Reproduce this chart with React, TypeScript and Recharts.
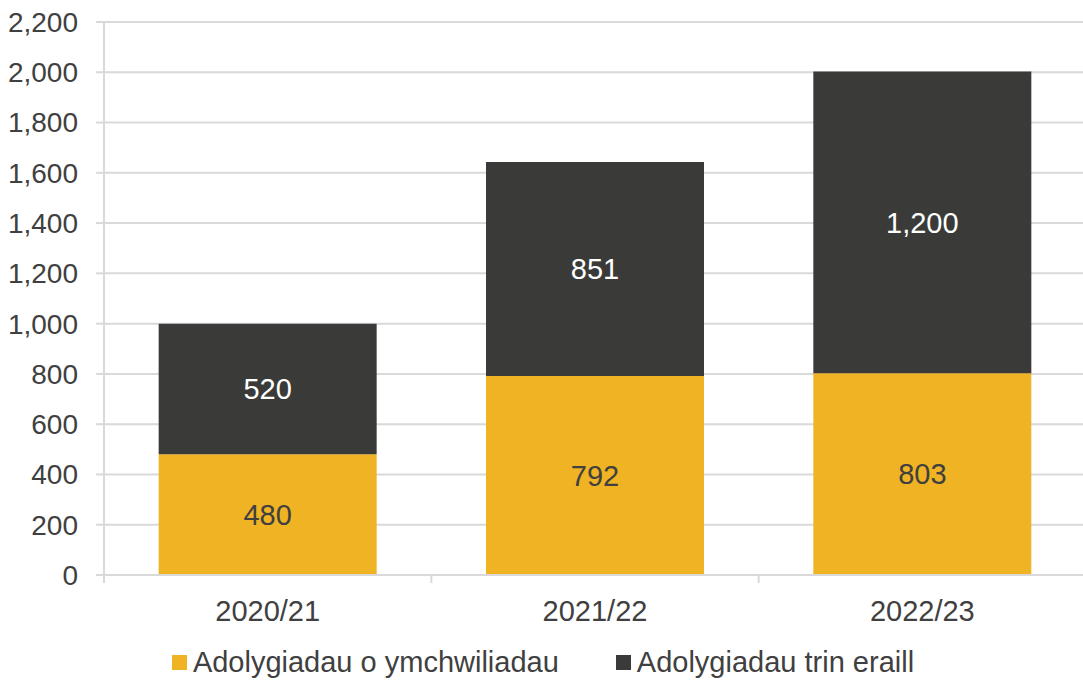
import React from "react";
import { BarChart, Bar, XAxis, YAxis, CartesianGrid, Legend, LabelList } from "recharts";

const years = ["2020/21", "2021/22", "2022/23"];
const investigationReviews = [480, 792, 803];
const otherReviews = [520, 851, 1200];
const yTicks = [0, 200, 400, 600, 800, 1000, 1200, 1400, 1600, 1800, 2000, 2200];

const seriesNames = ["Adolygiadau o ymchwiliadau", "Adolygiadau trin eraill"];
const colors = ["#F0B323", "#3A3B38"];

const data = years.map((year, i) => ({
  year,
  investigation: investigationReviews[i],
  other: otherReviews[i],
}));

const FONT = "'Liberation Sans', Arial, sans-serif";
const TEXT = "#404040";
const GRID = "#D9D9D9";
const SIZE = 29;
const fmt = (v: number) => Number(v).toLocaleString("en-US");

// plot spans 104..1086 → three bands
const BAND = (1086 - 104) / 3;

const XTick = (props: any) => {
  const { x, y, payload, index } = props;
  const axisY = y - 25;
  return (
    <g>
      <line x1={x - BAND / 2} x2={x - BAND / 2} y1={axisY} y2={axisY + 8} stroke={GRID} strokeWidth={2} />
      {index === years.length - 1 && (
        <line x1={x + BAND / 2} x2={x + BAND / 2} y1={axisY} y2={axisY + 8} stroke={GRID} strokeWidth={2} />
      )}
      <text x={x} y={y} dy="0.71em" textAnchor="middle" fill={TEXT} fontSize={SIZE} fontFamily={FONT}>
        {payload.value}
      </text>
    </g>
  );
};

const LegendContent = () => (
  <div style={{ display: "flex", justifyContent: "center", alignItems: "center", gap: 57, height: 36, paddingTop: 8 }}>
    {seriesNames.map((name, i) => (
      <div key={name} style={{ display: "flex", alignItems: "center" }}>
        <span style={{ width: 15, height: 15, background: colors[i], marginRight: 6, display: "inline-block" }} />
        <span style={{ fontFamily: FONT, fontSize: SIZE, color: TEXT }}>{name}</span>
      </div>
    ))}
  </div>
);

export default function App() {
  return (
    <div style={{ position: "absolute", left: 0, top: 0, background: "#fff" }}>
      <BarChart
        width={1083}
        height={680}
        data={data}
        margin={{ top: 22, right: -3, left: 0, bottom: 0 }}
        barCategoryGap="16.7%"
      >
        <CartesianGrid vertical={false} stroke={GRID} strokeWidth={2} />
        <XAxis
          dataKey="year"
          height={61}
          axisLine={{ stroke: GRID, strokeWidth: 2 }}
          tickLine={false}
          tickSize={8}
          tickMargin={17}
          tick={<XTick />}
          interval={0}
        />
        <YAxis
          width={104}
          domain={[0, 2200]}
          ticks={yTicks}
          interval={0}
          tickFormatter={fmt}
          axisLine={{ stroke: GRID, strokeWidth: 2 }}
          tickLine={{ stroke: GRID, strokeWidth: 2 }}
          tickSize={8}
          tickMargin={18}
          tick={{ fill: TEXT, fontSize: 28, fontFamily: FONT }}
        />
        <Legend verticalAlign="bottom" height={44} content={<LegendContent />} />
        <Bar dataKey="investigation" name={seriesNames[0]} stackId="a" fill={colors[0]} isAnimationActive={false}>
          <LabelList dataKey="investigation" position="center" formatter={fmt} fill={TEXT} fontSize={SIZE} fontFamily={FONT} />
        </Bar>
        <Bar dataKey="other" name={seriesNames[1]} stackId="a" fill={colors[1]} isAnimationActive={false}>
          <LabelList dataKey="other" position="center" formatter={fmt} fill="#FFFFFF" fontSize={SIZE} fontFamily={FONT} />
        </Bar>
      </BarChart>
    </div>
  );
}
